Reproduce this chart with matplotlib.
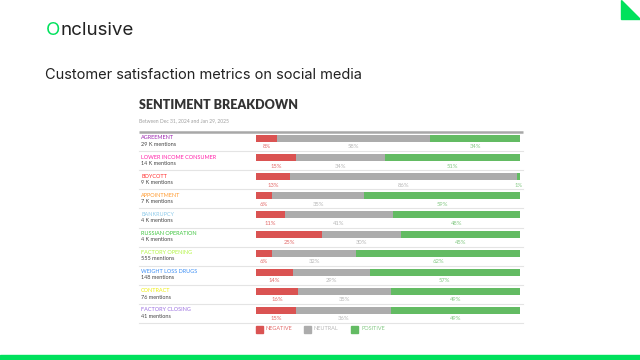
import matplotlib
matplotlib.use("Agg")
import matplotlib.pyplot as plt
from matplotlib.patches import Polygon, Rectangle

# data
topics = ['AGREEMENT', 'LOWER INCOME CONSUMER', 'BOYCOTT', 'APPOINTMENT',
          'BANKRUPCY', 'RUSSIAN OPERATION', 'FACTORY OPENING',
          'WEIGHT LOSS DRUGS', 'CONTRACT', 'FACTORY CLOSING']
mentions = ['29 K', '14 K', '9 K', '7 K', '4 K', '4 K', '555', '148', '76', '41']
negative = [8, 15, 13, 6, 11, 25, 6, 14, 16, 15]
neutral = [58, 34, 86, 35, 41, 30, 32, 29, 35, 36]
positive = [34, 51, 1, 59, 48, 45, 62, 57, 49, 49]
topic_colors = ['#9c27b0', '#ff1fa8', '#ff3030', '#ff9a2e', '#8fcbea',
                '#3cc43c', '#b2f542', '#3d8ff5', '#eeee10', '#9b6fe0']

NEG, NEU, POS = '#da5352', '#acacac', '#63bb63'
NEG_T, NEU_T, POS_T = '#e36c6b', '#b8b8b8', '#85c985'
GREEN = '#00e15c'

W, H = 640, 360


def fx(px):
    return px / W


def fy(py):
    return 1 - py / H


fig = plt.figure(figsize=(6.4, 3.6), dpi=100)
fig.patch.set_facecolor('white')

# decorations
fig.patches.append(Polygon([(fx(621), 1), (fx(621), fy(19)), (1, fy(19))],
                           closed=True, color=GREEN, transform=fig.transFigure))
fig.patches.append(Rectangle((0, 0), 1, 5 / H, color=GREEN,
                             transform=fig.transFigure))

logo_font = 'Inter'
o = fig.text(fx(46), fy(30.5), 'O', fontsize=13.5, family=logo_font,
             color=GREEN, va='center', ha='left')
renderer = fig.canvas.get_renderer()
o_right = o.get_window_extent(renderer).x1
fig.text(o_right / W, fy(30.5), 'nclusive', fontsize=13.5,
         family=logo_font, color='#222222', va='center', ha='left')
fig.text(fx(45), fy(75), 'Customer satisfaction metrics on social media',
         fontsize=10.5, family=logo_font, color='#222222', va='center', ha='left')

fig.text(fx(139), fy(105), 'SENTIMENT BREAKDOWN', fontsize=9, family='Lato',
         weight='heavy', color='#333333', va='center', ha='left')
fig.text(fx(139), fy(120.5), 'Between Dec 31, 2024 and Jan 29, 2025',
         fontsize=3.6, family='Lato', color='#a0a0a0', va='center', ha='left')

# chart axes: bars span x 256..520 px
ax = fig.add_axes([fx(256), fy(320), (520 - 256) / W, 191 / H])
ax.set_xlim(0, 100)
ax.set_ylim(9.5, -0.5)
ax.axis('off')

rows = list(range(len(topics)))
bh = 0.37
ax.barh(rows, negative, height=bh, color=NEG)
ax.barh(rows, neutral, left=negative, height=bh, color=NEU)
left_pos = [a + b for a, b in zip(negative, neutral)]
ax.barh(rows, positive, left=left_pos, height=bh, color=POS)

ytr = ax.get_yaxis_transform()
xl, xr = (139 - 256) / 264, (523 - 256) / 264
ax.plot([xl, xr], [-0.34, -0.34], color='#a8a8a8', lw=1.8,
        transform=ytr, clip_on=False, solid_capstyle='butt')

for i in rows:
    n, u, p = negative[i], neutral[i], positive[i]
    ax.text(n / 2, i + 0.44, f'{n}%', ha='center', va='center',
            fontsize=4.2, family='Lato', color=NEG_T)
    ax.text(n + u / 2, i + 0.44, f'{u}%', ha='center', va='center',
            fontsize=4.2, family='Lato', color=NEU_T)
    ax.text(n + u + p / 2, i + 0.44, f'{p}%', ha='center', va='center',
            fontsize=4.2, family='Lato', color=POS_T)
    ax.text((141 - 256) / 264, i - 0.03, topics[i], transform=ytr,
            ha='left', va='center', fontsize=4, family='Lato',
            color=topic_colors[i])
    ax.text((141 - 256) / 264, i + 0.3, f'{mentions[i]} mentions',
            transform=ytr, ha='left', va='center', fontsize=4,
            family='Lato', color='#444444')
    ax.plot([xl, xr], [i + 0.66, i + 0.66], color='#e4e4e4', lw=0.8,
            transform=ytr, clip_on=False)

# legend
for sx, tx, label, c, tc in [(256, 266, 'NEGATIVE', NEG, NEG_T),
                             (304, 313.5, 'NEUTRAL', NEU, NEU_T),
                             (351, 361, 'POSITIVE', POS, POS_T)]:
    fig.patches.append(Rectangle((fx(sx), fy(332.5)), 7 / W, 7 / H,
                                 color=c, transform=fig.transFigure))
    fig.text(fx(tx), fy(329), label, fontsize=4, family='Lato', color=tc,
             va='center', ha='left')

fig.savefig('out.png', dpi=100)
